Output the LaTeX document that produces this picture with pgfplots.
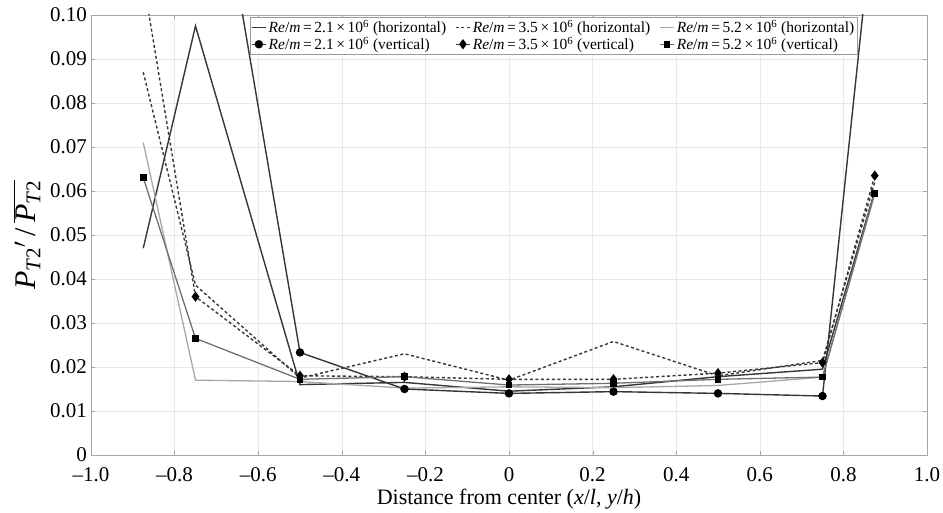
\documentclass[border=0pt]{standalone}
\usepackage{fontspec}
\setmainfont{Liberation Serif}
\usepackage{pgfplots}
\pgfplotsset{compat=1.18}
\definecolor{dk}{HTML}{363636}
\definecolor{lg}{HTML}{A8A8A8}
\definecolor{md}{HTML}{707070}
\begin{document}
\begin{tikzpicture}
\begin{axis}[
  name=ax,
  scale only axis, width=836pt, height=440pt,
  xmin=-1, xmax=1, ymin=0, ymax=0.1,
  xtick={-1,-0.8,-0.6,-0.4,-0.2,0,0.2,0.4,0.6,0.8,1},
  xticklabels={\textendash1.0,\textendash0.8,\textendash0.6,\textendash0.4,\textendash0.2,0,0.2,0.4,0.6,0.8,1.0},
  ytick={0,0.01,0.02,0.03,0.04,0.05,0.06,0.07,0.08,0.09,0.1},
  yticklabels={0,0.01,0.02,0.03,0.04,0.05,0.06,0.07,0.08,0.09,0.10},
  tick label style={font=\fontsize{21}{25}\selectfont},
  xticklabel style={inner sep=0.5pt, yshift=-12pt},
  yticklabel style={inner sep=0.5pt, xshift=-3.5pt},
  grid=major, major grid style={draw=black!9, line width=0.6pt},
  axis line style={draw=black!35, line width=0.8pt},
  tick style={draw=black!35},
  every axis x label/.style={at={(axis description cs:0.5,-0.1115)}, anchor=base, inner sep=0.5pt, font=\fontsize{22}{26}\selectfont},
  every axis y label/.style={at={(axis description cs:-0.0766,0.5)}, rotate=90, anchor=center, inner sep=1pt, font=\fontsize{30}{34}\selectfont},
  xlabel={Distance from center (\textit{x}/\textit{l}, \textit{y}/\textit{h})},
  ylabel={\textit{P}\textsubscript{\textit{T}2}$'$\,/\,$\overline{\hbox{\textit{P}\textsubscript{\textit{T}2}}}$},
  legend columns=3,
  legend cell align=left,
  legend style={at={(rel axis cs:0.19,0.995)}, anchor=north west,
    font=\fontsize{15.5}{18}\selectfont, draw=black!40, fill=white,
    inner sep=1pt, row sep=-1pt,
    /tikz/every even column/.append style={column sep=7pt}},
  legend image code/.code={\draw[mark repeat=2,mark phase=2] plot coordinates {(0cm,0cm) (0.25cm,0cm) (0.5cm,0cm)};},
]
% Re/m = 2.1e6 horizontal
\addplot[dk, line width=1.4pt] coordinates {
(-0.875,0.047) (-0.75,0.0975) (-0.5,0.016) (-0.25,0.0165) (0,0.0145) (0.25,0.0155) (0.5,0.0178) (0.75,0.0195) (0.875,0.0600)};
\addlegendentry{\textit{Re}/\textit{m}\,=\,2.1\,×\,10\textsuperscript{6} (horizontal)}
% Re/m = 3.5e6 horizontal
\addplot[dk, line width=1.4pt, dash pattern=on 3pt off 2.5pt] coordinates {
(-0.875,0.087) (-0.75,0.0386) (-0.5,0.0175) (-0.25,0.023) (0,0.017) (0.25,0.0258) (0.5,0.018) (0.75,0.0215) (0.875,0.062)};
\addlegendentry{\textit{Re}/\textit{m}\,=\,3.5\,×\,10\textsuperscript{6} (horizontal)}
% Re/m = 5.2e6 horizontal
\addplot[lg, line width=1.3pt] coordinates {
(-0.875,0.071) (-0.75,0.017) (-0.5,0.0167) (-0.25,0.0152) (0,0.0155) (0.25,0.0153) (0.5,0.0158) (0.75,0.0177) (0.875,0.0595)};
\addlegendentry{\textit{Re}/\textit{m}\,=\,5.2\,×\,10\textsuperscript{6} (horizontal)}
% Re/m = 2.1e6 vertical
\addplot[dk, line width=1.4pt, mark=*, mark size=3.5pt, mark options={solid, fill=black, draw=black}] coordinates {
(-0.75,0.163) (-0.5,0.0233) (-0.25,0.015) (0,0.014) (0.25,0.0144) (0.5,0.014) (0.75,0.0134) (0.875,0.126)};
\addlegendentry{\textit{Re}/\textit{m}\,=\,2.1\,×\,10\textsuperscript{6} (vertical)}
% Re/m = 3.5e6 vertical
\addplot[dk, line width=1.4pt, dash pattern=on 3pt off 2.5pt, mark=diamond*, mark size=4pt, mark options={solid, fill=black, draw=black}] coordinates {
(-0.875,0.108) (-0.75,0.036) (-0.5,0.018) (-0.25,0.0178) (0,0.0172) (0.25,0.0172) (0.5,0.0186) (0.75,0.021) (0.875,0.0635)};
\addlegendentry{\textit{Re}/\textit{m}\,=\,3.5\,×\,10\textsuperscript{6} (vertical)}
% Re/m = 5.2e6 vertical
\addplot[md, line width=1.3pt, mark=square*, mark size=2.7pt, mark options={solid, fill=black, draw=black}] coordinates {
(-0.875,0.063) (-0.75,0.0265) (-0.5,0.0172) (-0.25,0.0178) (0,0.0159) (0.25,0.0163) (0.5,0.0172) (0.75,0.0177) (0.875,0.0595)};
\addlegendentry{\textit{Re}/\textit{m}\,=\,5.2\,×\,10\textsuperscript{6} (vertical)}
\end{axis}
\pgfresetboundingbox
\path ([shift={(-91pt,-57pt)}]ax.south west) rectangle ([shift={(16pt,15pt)}]ax.north east);
\end{tikzpicture}
\end{document}
